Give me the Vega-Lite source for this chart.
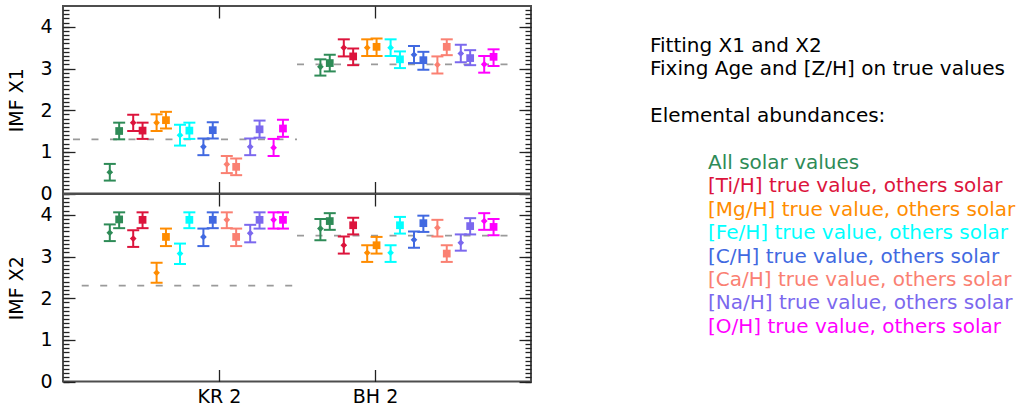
{
  "$schema": "https://vega.github.io/schema/vega-lite/v6.json",
  "padding": {"left": 6, "top": 4, "right": 0, "bottom": 0},
  "background": "white",
  "config": {
    "font": "DejaVu Sans",
    "view": {"stroke": "#4d4d4d", "strokeWidth": 2},
    "axis": {"grid": false, "domain": false, "tickColor": "#222", "tickWidth": 1.3, "labelColor": "#000", "labelFont": "DejaVu Sans", "labelFontSize": 19, "titleFont": "DejaVu Sans", "titleFontSize": 19, "titleFontWeight": "normal", "titleColor": "#000"}
  },
  "datasets": {
    "pts": [
      {"panel": "X1", "sample": "KR 2", "ab": "solar", "series": "a", "x": 0.30, "imf": 0.51, "lo": 0.31, "hi": 0.71},
      {"panel": "X1", "sample": "KR 2", "ab": "solar", "series": "b", "x": 0.36, "imf": 1.50, "lo": 1.30, "hi": 1.70},
      {"panel": "X1", "sample": "KR 2", "ab": "Ti", "series": "a", "x": 0.45, "imf": 1.70, "lo": 1.50, "hi": 1.89},
      {"panel": "X1", "sample": "KR 2", "ab": "Ti", "series": "b", "x": 0.51, "imf": 1.51, "lo": 1.31, "hi": 1.70},
      {"panel": "X1", "sample": "KR 2", "ab": "Mg", "series": "a", "x": 0.60, "imf": 1.70, "lo": 1.50, "hi": 1.90},
      {"panel": "X1", "sample": "KR 2", "ab": "Mg", "series": "b", "x": 0.66, "imf": 1.76, "lo": 1.56, "hi": 1.96},
      {"panel": "X1", "sample": "KR 2", "ab": "Fe", "series": "a", "x": 0.75, "imf": 1.40, "lo": 1.15, "hi": 1.65},
      {"panel": "X1", "sample": "KR 2", "ab": "Fe", "series": "b", "x": 0.81, "imf": 1.51, "lo": 1.31, "hi": 1.70},
      {"panel": "X1", "sample": "KR 2", "ab": "C", "series": "a", "x": 0.90, "imf": 1.12, "lo": 0.92, "hi": 1.32},
      {"panel": "X1", "sample": "KR 2", "ab": "C", "series": "b", "x": 0.96, "imf": 1.52, "lo": 1.32, "hi": 1.71},
      {"panel": "X1", "sample": "KR 2", "ab": "Ca", "series": "a", "x": 1.05, "imf": 0.70, "lo": 0.49, "hi": 0.90},
      {"panel": "X1", "sample": "KR 2", "ab": "Ca", "series": "b", "x": 1.11, "imf": 0.64, "lo": 0.44, "hi": 0.84},
      {"panel": "X1", "sample": "KR 2", "ab": "Na", "series": "a", "x": 1.20, "imf": 1.12, "lo": 0.92, "hi": 1.32},
      {"panel": "X1", "sample": "KR 2", "ab": "Na", "series": "b", "x": 1.26, "imf": 1.54, "lo": 1.34, "hi": 1.75},
      {"panel": "X1", "sample": "KR 2", "ab": "O", "series": "a", "x": 1.35, "imf": 1.10, "lo": 0.90, "hi": 1.31},
      {"panel": "X1", "sample": "KR 2", "ab": "O", "series": "b", "x": 1.41, "imf": 1.56, "lo": 1.36, "hi": 1.77},
      {"panel": "X1", "sample": "BH 2", "ab": "solar", "series": "a", "x": 1.65, "imf": 3.04, "lo": 2.83, "hi": 3.22},
      {"panel": "X1", "sample": "BH 2", "ab": "solar", "series": "b", "x": 1.71, "imf": 3.13, "lo": 2.93, "hi": 3.33},
      {"panel": "X1", "sample": "BH 2", "ab": "Ti", "series": "a", "x": 1.80, "imf": 3.50, "lo": 3.29, "hi": 3.70},
      {"panel": "X1", "sample": "BH 2", "ab": "Ti", "series": "b", "x": 1.86, "imf": 3.29, "lo": 3.08, "hi": 3.48},
      {"panel": "X1", "sample": "BH 2", "ab": "Mg", "series": "a", "x": 1.95, "imf": 3.50, "lo": 3.30, "hi": 3.70},
      {"panel": "X1", "sample": "BH 2", "ab": "Mg", "series": "b", "x": 2.01, "imf": 3.52, "lo": 3.30, "hi": 3.72},
      {"panel": "X1", "sample": "BH 2", "ab": "Fe", "series": "a", "x": 2.10, "imf": 3.50, "lo": 3.30, "hi": 3.70},
      {"panel": "X1", "sample": "BH 2", "ab": "Fe", "series": "b", "x": 2.16, "imf": 3.22, "lo": 3.01, "hi": 3.41},
      {"panel": "X1", "sample": "BH 2", "ab": "C", "series": "a", "x": 2.25, "imf": 3.33, "lo": 3.13, "hi": 3.54},
      {"panel": "X1", "sample": "BH 2", "ab": "C", "series": "b", "x": 2.31, "imf": 3.20, "lo": 2.97, "hi": 3.40},
      {"panel": "X1", "sample": "BH 2", "ab": "Ca", "series": "a", "x": 2.40, "imf": 3.09, "lo": 2.88, "hi": 3.29},
      {"panel": "X1", "sample": "BH 2", "ab": "Ca", "series": "b", "x": 2.46, "imf": 3.52, "lo": 3.32, "hi": 3.70},
      {"panel": "X1", "sample": "BH 2", "ab": "Na", "series": "a", "x": 2.55, "imf": 3.36, "lo": 3.15, "hi": 3.57},
      {"panel": "X1", "sample": "BH 2", "ab": "Na", "series": "b", "x": 2.61, "imf": 3.25, "lo": 3.08, "hi": 3.44},
      {"panel": "X1", "sample": "BH 2", "ab": "O", "series": "a", "x": 2.70, "imf": 3.10, "lo": 2.90, "hi": 3.30},
      {"panel": "X1", "sample": "BH 2", "ab": "O", "series": "b", "x": 2.76, "imf": 3.28, "lo": 3.06, "hi": 3.46},
      {"panel": "X2", "sample": "KR 2", "ab": "solar", "series": "a", "x": 0.30, "imf": 3.57, "lo": 3.37, "hi": 3.77},
      {"panel": "X2", "sample": "KR 2", "ab": "solar", "series": "b", "x": 0.36, "imf": 3.89, "lo": 3.68, "hi": 4.06},
      {"panel": "X2", "sample": "KR 2", "ab": "Ti", "series": "a", "x": 0.45, "imf": 3.43, "lo": 3.23, "hi": 3.63},
      {"panel": "X2", "sample": "KR 2", "ab": "Ti", "series": "b", "x": 0.51, "imf": 3.88, "lo": 3.68, "hi": 4.06},
      {"panel": "X2", "sample": "KR 2", "ab": "Mg", "series": "a", "x": 0.60, "imf": 2.61, "lo": 2.37, "hi": 2.85},
      {"panel": "X2", "sample": "KR 2", "ab": "Mg", "series": "b", "x": 0.66, "imf": 3.47, "lo": 3.25, "hi": 3.67},
      {"panel": "X2", "sample": "KR 2", "ab": "Fe", "series": "a", "x": 0.75, "imf": 3.07, "lo": 2.82, "hi": 3.31},
      {"panel": "X2", "sample": "KR 2", "ab": "Fe", "series": "b", "x": 0.81, "imf": 3.88, "lo": 3.68, "hi": 4.06},
      {"panel": "X2", "sample": "KR 2", "ab": "C", "series": "a", "x": 0.90, "imf": 3.47, "lo": 3.25, "hi": 3.67},
      {"panel": "X2", "sample": "KR 2", "ab": "C", "series": "b", "x": 0.96, "imf": 3.88, "lo": 3.68, "hi": 4.06},
      {"panel": "X2", "sample": "KR 2", "ab": "Ca", "series": "a", "x": 1.05, "imf": 3.88, "lo": 3.68, "hi": 4.06},
      {"panel": "X2", "sample": "KR 2", "ab": "Ca", "series": "b", "x": 1.11, "imf": 3.47, "lo": 3.25, "hi": 3.67},
      {"panel": "X2", "sample": "KR 2", "ab": "Na", "series": "a", "x": 1.20, "imf": 3.56, "lo": 3.34, "hi": 3.76},
      {"panel": "X2", "sample": "KR 2", "ab": "Na", "series": "b", "x": 1.26, "imf": 3.88, "lo": 3.67, "hi": 4.06},
      {"panel": "X2", "sample": "KR 2", "ab": "O", "series": "a", "x": 1.35, "imf": 3.88, "lo": 3.67, "hi": 4.06},
      {"panel": "X2", "sample": "KR 2", "ab": "O", "series": "b", "x": 1.41, "imf": 3.88, "lo": 3.67, "hi": 4.06},
      {"panel": "X2", "sample": "BH 2", "ab": "solar", "series": "a", "x": 1.65, "imf": 3.67, "lo": 3.39, "hi": 3.90},
      {"panel": "X2", "sample": "BH 2", "ab": "solar", "series": "b", "x": 1.71, "imf": 3.85, "lo": 3.64, "hi": 4.04},
      {"panel": "X2", "sample": "BH 2", "ab": "Ti", "series": "a", "x": 1.80, "imf": 3.27, "lo": 3.07, "hi": 3.48},
      {"panel": "X2", "sample": "BH 2", "ab": "Ti", "series": "b", "x": 1.86, "imf": 3.75, "lo": 3.53, "hi": 3.93},
      {"panel": "X2", "sample": "BH 2", "ab": "Mg", "series": "a", "x": 1.95, "imf": 3.09, "lo": 2.87, "hi": 3.27},
      {"panel": "X2", "sample": "BH 2", "ab": "Mg", "series": "b", "x": 2.01, "imf": 3.27, "lo": 3.07, "hi": 3.47},
      {"panel": "X2", "sample": "BH 2", "ab": "Fe", "series": "a", "x": 2.10, "imf": 3.09, "lo": 2.87, "hi": 3.27},
      {"panel": "X2", "sample": "BH 2", "ab": "Fe", "series": "b", "x": 2.16, "imf": 3.75, "lo": 3.55, "hi": 3.95},
      {"panel": "X2", "sample": "BH 2", "ab": "C", "series": "a", "x": 2.25, "imf": 3.40, "lo": 3.21, "hi": 3.60},
      {"panel": "X2", "sample": "BH 2", "ab": "C", "series": "b", "x": 2.31, "imf": 3.80, "lo": 3.59, "hi": 3.98},
      {"panel": "X2", "sample": "BH 2", "ab": "Ca", "series": "a", "x": 2.40, "imf": 3.69, "lo": 3.48, "hi": 3.88},
      {"panel": "X2", "sample": "BH 2", "ab": "Ca", "series": "b", "x": 2.46, "imf": 3.07, "lo": 2.87, "hi": 3.27},
      {"panel": "X2", "sample": "BH 2", "ab": "Na", "series": "a", "x": 2.55, "imf": 3.33, "lo": 3.14, "hi": 3.53},
      {"panel": "X2", "sample": "BH 2", "ab": "Na", "series": "b", "x": 2.61, "imf": 3.73, "lo": 3.53, "hi": 3.92},
      {"panel": "X2", "sample": "BH 2", "ab": "O", "series": "a", "x": 2.70, "imf": 3.85, "lo": 3.64, "hi": 4.04},
      {"panel": "X2", "sample": "BH 2", "ab": "O", "series": "b", "x": 2.76, "imf": 3.71, "lo": 3.51, "hi": 3.90}
    ],
    "ref": [
      {"panel": "X1", "sample": "KR 2", "imf": 1.3, "x_start": 0.064, "x_end": 1.5},
      {"panel": "X1", "sample": "BH 2", "imf": 3.1, "x_start": 1.5, "x_end": 2.88},
      {"panel": "X2", "sample": "KR 2", "imf": 2.3, "x_start": 0.12, "x_end": 1.5},
      {"panel": "X2", "sample": "BH 2", "imf": 3.5, "x_start": 1.5, "x_end": 2.88}
    ],
    "notes": [
      {"line": 0, "indent": 0, "ab": null, "text": "Fitting X1 and X2"},
      {"line": 1, "indent": 0, "ab": null, "text": "Fixing Age and [Z/H] on true values"},
      {"line": 3, "indent": 0, "ab": null, "text": "Elemental abundances:"},
      {"line": 5, "indent": 1, "ab": "solar", "text": "All solar values"},
      {"line": 6, "indent": 1, "ab": "Ti", "text": "[Ti/H] true value, others solar"},
      {"line": 7, "indent": 1, "ab": "Mg", "text": "[Mg/H] true value, others solar"},
      {"line": 8, "indent": 1, "ab": "Fe", "text": "[Fe/H] true value, others solar"},
      {"line": 9, "indent": 1, "ab": "C", "text": "[C/H] true value, others solar"},
      {"line": 10, "indent": 1, "ab": "Ca", "text": "[Ca/H] true value, others solar"},
      {"line": 11, "indent": 1, "ab": "Na", "text": "[Na/H] true value, others solar"},
      {"line": 12, "indent": 1, "ab": "O", "text": "[O/H] true value, others solar"}
    ]
  },
  "spacing": 117,
  "hconcat": [
    {
      "spacing": 0,
      "bounds": "flush",
      "vconcat": [
        {
          "width": 468,
          "height": 187.5,
          "layer": [
            {
              "data": {"name": "ref"},
              "transform": [{"filter": "datum.panel == 'X1'"}],
              "mark": {"type": "rule", "color": "#9a9a9a", "strokeWidth": 1.6, "strokeDash": [7, 11.5]},
              "encoding": {
                "x": {"field": "x_start", "type": "quantitative", "scale": {"domain": [0, 3], "nice": false}, "axis": {"orient": "bottom", "values": [1, 2], "labels": false, "offset": -12, "tickSize": 12, "title": null}},
                "x2": {"field": "x_end"},
                "y": {"field": "imf", "type": "quantitative", "scale": {"domain": [0, 4.5], "nice": false}, "axis": {"orient": "left", "values": [0, 1, 2, 3, 4], "offset": -12, "tickSize": 12, "labelPadding": 11, "title": "IMF X1", "titlePadding": 13}}
              }
            },
            {
              "data": {"name": "pts"},
              "transform": [{"filter": "datum.panel == 'X1'"}],
              "mark": {"type": "rule", "strokeWidth": 2},
              "encoding": {
                "x": {"field": "x", "type": "quantitative", "scale": {"domain": [0, 3], "nice": false}, "axis": {"orient": "top", "values": [1, 2], "labels": false, "offset": -12, "tickSize": 12, "title": null}},
                "y": {"field": "lo", "type": "quantitative", "scale": {"domain": [0, 4.5], "nice": false}, "axis": {"orient": "left", "values": [0,0.1,0.2,0.3,0.4,0.5,0.6,0.7,0.8,0.9,1,1.1,1.2,1.3,1.4,1.5,1.6,1.7,1.8,1.9,2,2.1,2.2,2.3,2.4,2.5,2.6,2.7,2.8,2.9,3,3.1,3.2,3.3,3.4,3.5,3.6,3.7,3.8,3.9,4,4.1,4.2,4.3,4.4], "labels": false, "offset": -6, "tickSize": 6, "title": null}},
                "y2": {"field": "hi"},
                "color": {"field": "ab", "type": "nominal", "scale": {"domain": ["solar", "Ti", "Mg", "Fe", "C", "Ca", "Na", "O"], "range": ["#2e8b57", "#dc143c", "#ff8c00", "#00ffff", "#4169e1", "#fa8072", "#7b68ee", "#ff00ff"]}, "legend": null}
              }
            },
            {
              "data": {"name": "pts"},
              "transform": [{"filter": "datum.panel == 'X1'"}],
              "mark": {"type": "tick", "orient": "horizontal", "size": 12, "thickness": 2, "opacity": 1},
              "encoding": {
                "x": {"field": "x", "type": "quantitative", "axis": null},
                "y": {"field": "lo", "type": "quantitative", "axis": {"orient": "right", "values": [0, 1, 2, 3, 4], "labels": false, "offset": -12, "tickSize": 12, "title": null}},
                "color": {"field": "ab", "type": "nominal", "legend": null}
              }
            },
            {
              "data": {"name": "pts"},
              "transform": [{"filter": "datum.panel == 'X1'"}],
              "mark": {"type": "tick", "orient": "horizontal", "size": 12, "thickness": 2, "opacity": 1},
              "encoding": {
                "x": {"field": "x", "type": "quantitative", "axis": null},
                "y": {"field": "hi", "type": "quantitative", "axis": {"orient": "right", "values": [0,0.1,0.2,0.3,0.4,0.5,0.6,0.7,0.8,0.9,1,1.1,1.2,1.3,1.4,1.5,1.6,1.7,1.8,1.9,2,2.1,2.2,2.3,2.4,2.5,2.6,2.7,2.8,2.9,3,3.1,3.2,3.3,3.4,3.5,3.6,3.7,3.8,3.9,4,4.1,4.2,4.3,4.4], "labels": false, "offset": -6, "tickSize": 6, "title": null}},
                "color": {"field": "ab", "type": "nominal", "legend": null}
              }
            },
            {
              "data": {"name": "pts"},
              "transform": [{"filter": "datum.panel == 'X1'"}],
              "mark": {"type": "point", "filled": true, "opacity": 1},
              "encoding": {
                "x": {"field": "x", "type": "quantitative", "axis": null},
                "y": {"field": "imf", "type": "quantitative", "axis": null},
                "color": {"field": "ab", "type": "nominal", "legend": null},
                "shape": {"field": "series", "type": "nominal", "scale": {"domain": ["a", "b"], "range": ["diamond", "square"]}, "legend": null},
                "size": {"field": "series", "type": "nominal", "scale": {"domain": ["a", "b"], "range": [45, 60]}, "legend": null}
              }
            }
          ],
          "resolve": {"axis": {"x": "independent", "y": "independent"}}
        },
        {
          "width": 468,
          "height": 187.5,
          "layer": [
            {
              "data": {"name": "ref"},
              "transform": [{"filter": "datum.panel == 'X2'"}],
              "mark": {"type": "rule", "color": "#9a9a9a", "strokeWidth": 1.6, "strokeDash": [7, 11.5]},
              "encoding": {
                "x": {"field": "x_start", "type": "quantitative", "scale": {"domain": [0, 3], "nice": false}, "axis": {"orient": "bottom", "values": [1, 2], "labelExpr": "datum.value == 1 ? 'KR 2' : 'BH 2'", "offset": -12, "tickSize": 12, "labelPadding": 6, "title": null}},
                "x2": {"field": "x_end"},
                "y": {"field": "imf", "type": "quantitative", "scale": {"domain": [0, 4.5], "nice": false}, "axis": {"orient": "left", "values": [0, 1, 2, 3, 4], "offset": -12, "tickSize": 12, "labelPadding": 11, "title": "IMF X2", "titlePadding": 13}}
              }
            },
            {
              "data": {"name": "pts"},
              "transform": [{"filter": "datum.panel == 'X2'"}],
              "mark": {"type": "rule", "strokeWidth": 2},
              "encoding": {
                "x": {"field": "x", "type": "quantitative", "scale": {"domain": [0, 3], "nice": false}, "axis": {"orient": "top", "values": [1, 2], "labels": false, "offset": -12, "tickSize": 12, "title": null}},
                "y": {"field": "lo", "type": "quantitative", "scale": {"domain": [0, 4.5], "nice": false}, "axis": {"orient": "left", "values": [0,0.1,0.2,0.3,0.4,0.5,0.6,0.7,0.8,0.9,1,1.1,1.2,1.3,1.4,1.5,1.6,1.7,1.8,1.9,2,2.1,2.2,2.3,2.4,2.5,2.6,2.7,2.8,2.9,3,3.1,3.2,3.3,3.4,3.5,3.6,3.7,3.8,3.9,4,4.1,4.2,4.3,4.4], "labels": false, "offset": -6, "tickSize": 6, "title": null}},
                "y2": {"field": "hi"},
                "color": {"field": "ab", "type": "nominal", "scale": {"domain": ["solar", "Ti", "Mg", "Fe", "C", "Ca", "Na", "O"], "range": ["#2e8b57", "#dc143c", "#ff8c00", "#00ffff", "#4169e1", "#fa8072", "#7b68ee", "#ff00ff"]}, "legend": null}
              }
            },
            {
              "data": {"name": "pts"},
              "transform": [{"filter": "datum.panel == 'X2'"}],
              "mark": {"type": "tick", "orient": "horizontal", "size": 12, "thickness": 2, "opacity": 1},
              "encoding": {
                "x": {"field": "x", "type": "quantitative", "axis": null},
                "y": {"field": "lo", "type": "quantitative", "axis": {"orient": "right", "values": [0, 1, 2, 3, 4], "labels": false, "offset": -12, "tickSize": 12, "title": null}},
                "color": {"field": "ab", "type": "nominal", "legend": null}
              }
            },
            {
              "data": {"name": "pts"},
              "transform": [{"filter": "datum.panel == 'X2'"}],
              "mark": {"type": "tick", "orient": "horizontal", "size": 12, "thickness": 2, "opacity": 1},
              "encoding": {
                "x": {"field": "x", "type": "quantitative", "axis": null},
                "y": {"field": "hi", "type": "quantitative", "axis": {"orient": "right", "values": [0,0.1,0.2,0.3,0.4,0.5,0.6,0.7,0.8,0.9,1,1.1,1.2,1.3,1.4,1.5,1.6,1.7,1.8,1.9,2,2.1,2.2,2.3,2.4,2.5,2.6,2.7,2.8,2.9,3,3.1,3.2,3.3,3.4,3.5,3.6,3.7,3.8,3.9,4,4.1,4.2,4.3,4.4], "labels": false, "offset": -6, "tickSize": 6, "title": null}},
                "color": {"field": "ab", "type": "nominal", "legend": null}
              }
            },
            {
              "data": {"name": "pts"},
              "transform": [{"filter": "datum.panel == 'X2'"}],
              "mark": {"type": "point", "filled": true, "opacity": 1},
              "encoding": {
                "x": {"field": "x", "type": "quantitative", "axis": null},
                "y": {"field": "imf", "type": "quantitative", "axis": null},
                "color": {"field": "ab", "type": "nominal", "legend": null},
                "shape": {"field": "series", "type": "nominal", "scale": {"domain": ["a", "b"], "range": ["diamond", "square"]}, "legend": null},
                "size": {"field": "series", "type": "nominal", "scale": {"domain": ["a", "b"], "range": [45, 60]}, "legend": null}
              }
            }
          ],
          "resolve": {"axis": {"x": "independent", "y": "independent"}}
        }
      ]
    },
    {
      "width": 370,
      "height": 375,
      "data": {"name": "notes"},
      "mark": {"type": "text", "align": "left", "baseline": "middle", "fontSize": 20, "font": "DejaVu Sans"},
      "encoding": {
        "x": {"field": "indent", "type": "quantitative", "scale": {"domain": [0, 1], "range": [0, 58]}, "axis": null},
        "y": {"field": "line", "type": "quantitative", "scale": {"domain": [0, 12], "range": [40, 320.8]}, "axis": null},
        "text": {"field": "text"},
        "color": {
          "condition": {"test": "datum.ab == null", "value": "#000000"},
          "field": "ab", "type": "nominal",
          "scale": {"domain": ["solar", "Ti", "Mg", "Fe", "C", "Ca", "Na", "O"], "range": ["#2e8b57", "#dc143c", "#ff8c00", "#00ffff", "#4169e1", "#fa8072", "#7b68ee", "#ff00ff"]},
          "legend": null
        }
      },
      "view": {"stroke": null}
    }
  ]
}
